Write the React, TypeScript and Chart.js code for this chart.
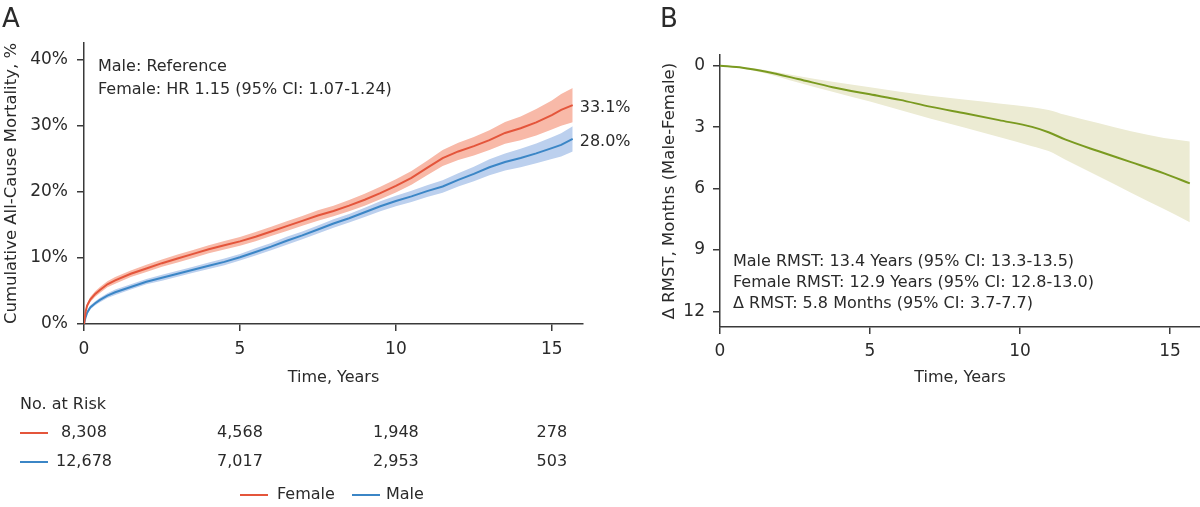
import React, { useEffect, useRef } from "react";
import { Chart, registerables } from "chart.js";

Chart.register(...registerables);

// ---------- data ----------
const timesA = [0, 0.05, 0.1, 0.2, 0.35, 0.5, 0.75, 1, 1.5, 2, 2.5, 3, 3.5, 4, 4.5, 5, 5.5, 6, 6.5, 7, 7.5, 8, 8.5, 9, 9.5, 10, 10.5, 11, 11.5, 12, 12.5, 13, 13.5, 14, 14.5, 15, 15.3, 15.67];
const female = [0, 1.8, 2.8, 3.7, 4.5, 5.1, 6.0, 6.6, 7.6, 8.4, 9.2, 9.9, 10.6, 11.3, 11.9, 12.5, 13.2, 14.0, 14.8, 15.6, 16.4, 17.1, 17.9, 18.8, 19.8, 20.9, 22.1, 23.6, 25.1, 26.1, 26.9, 27.8, 28.9, 29.6, 30.5, 31.6, 32.4, 33.1];
const femaleLo = [0, 1.5, 2.45, 3.3, 4.1, 4.65, 5.55, 6.1, 7.1, 7.85, 8.65, 9.3, 10.0, 10.7, 11.25, 11.85, 12.5, 13.3, 14.05, 14.85, 15.6, 16.3, 17.05, 17.9, 18.85, 19.9, 21.05, 22.5, 23.9, 24.8, 25.5, 26.3, 27.25, 27.8, 28.5, 29.4, 30.0, 30.5];
const femaleHi = [0, 2.1, 3.15, 4.1, 4.9, 5.55, 6.45, 7.1, 8.1, 8.95, 9.75, 10.5, 11.2, 11.9, 12.55, 13.15, 13.9, 14.7, 15.55, 16.35, 17.2, 17.9, 18.75, 19.7, 20.75, 21.9, 23.15, 24.7, 26.3, 27.4, 28.3, 29.3, 30.55, 31.4, 32.5, 33.8, 34.8, 35.7];
const male = [0, 1.0, 1.7, 2.5, 3.1, 3.6, 4.3, 4.8, 5.6, 6.4, 7.0, 7.6, 8.2, 8.8, 9.4, 10.1, 10.9, 11.7, 12.6, 13.4, 14.3, 15.2, 16.0, 16.9, 17.8, 18.6, 19.3, 20.1, 20.8, 21.8, 22.7, 23.7, 24.5, 25.1, 25.8, 26.6, 27.1, 28.0];
const maleLo = [0, 0.8, 1.45, 2.2, 2.8, 3.25, 3.95, 4.4, 5.2, 6.0, 6.55, 7.15, 7.75, 8.3, 8.9, 9.6, 10.35, 11.15, 12.0, 12.8, 13.7, 14.55, 15.35, 16.2, 17.05, 17.8, 18.45, 19.2, 19.85, 20.8, 21.6, 22.5, 23.2, 23.7, 24.3, 24.95, 25.35, 26.1];
const maleHi = [0, 1.2, 1.95, 2.8, 3.4, 3.95, 4.65, 5.2, 6.0, 6.8, 7.45, 8.05, 8.65, 9.3, 9.9, 10.6, 11.45, 12.25, 13.2, 14.0, 14.9, 15.85, 16.65, 17.6, 18.55, 19.4, 20.15, 21.0, 21.75, 22.8, 23.8, 24.9, 25.8, 26.5, 27.3, 28.25, 28.85, 29.9];
const endLabels = ["33.1%", "28.0%"];

const riskTimes = [0, 5, 10, 15];
const riskFemale = ["8,308", "4,568", "1,948", "278"];
const riskMale = ["12,678", "7,017", "2,953", "503"];

const xTicks = [0, 5, 10, 15];
const yTicksA = [0, 10, 20, 30, 40];
const yTicksB = [0, 3, 6, 9, 12];

const timesB = [0, 0.75, 1.5, 2.6, 3.75, 5, 6, 7, 8.2, 9.3, 10.4, 10.95, 11.5, 12.6, 13.7, 14.8, 15.66];
const rmst = [0, 0.1, 0.29, 0.65, 1.05, 1.4, 1.67, 2.0, 2.34, 2.66, 2.99, 3.25, 3.6, 4.17, 4.71, 5.26, 5.75];
const rmstUpper = [0, 0.07, 0.21, 0.5, 0.78, 1.05, 1.27, 1.47, 1.67, 1.85, 2.03, 2.16, 2.4, 2.8, 3.2, 3.53, 3.7];
const rmstLower = [0, 0.14, 0.37, 0.82, 1.27, 1.75, 2.16, 2.58, 3.04, 3.48, 3.93, 4.17, 4.58, 5.39, 6.2, 7.0, 7.65];

const annA = ["Male: Reference", "Female: HR 1.15 (95% CI: 1.07-1.24)"];
const annB = [
  "Male RMST: 13.4 Years (95% CI: 13.3-13.5)",
  "Female RMST: 12.9 Years (95% CI: 12.8-13.0)",
  "\u0394 RMST: 5.8 Months (95% CI: 3.7-7.7)",
];

// ---------- style ----------
const FONT = "'DejaVu Sans', sans-serif";
const TEXT = "#2a2a2a";
const AXIS = "#3a3a3a";
const RED = "#e4553b";
const BLUE = "#3b86c6";
const RED_BAND = "#f8b9a8";
const BLUE_BAND = "#bcd0ee";
const GREEN = "#7a9a20";
const GREEN_BAND = "#ecebd3";

const pts = (xs: number[], ys: number[]) => xs.map((x, i) => ({ x, y: ys[i] }));

const axisCommon = (extra: any) => ({
  type: "linear",
  grid: { drawOnChartArea: false, drawTicks: true, tickLength: 7, color: AXIS, lineWidth: 1.5 },
  border: { display: true, color: AXIS, width: 1.5 },
  ...extra,
});

const riskPlugin = {
  id: "riskTable",
  afterDraw(chart: any) {
    const { ctx, scales } = chart;
    const x = scales.x;
    const y = scales.y;
    ctx.save();
    ctx.font = `16px ${FONT}`;
    ctx.fillStyle = TEXT;
    ctx.textBaseline = "middle";
    ctx.textAlign = "left";
    const tEnd = timesA[timesA.length - 1];
    ctx.fillText(endLabels[0], x.getPixelForValue(tEnd) + 7, y.getPixelForValue(female[female.length - 1]) + 3);
    ctx.fillText(endLabels[1], x.getPixelForValue(tEnd) + 7, y.getPixelForValue(male[male.length - 1]) + 3);

    ctx.fillText("No. at Risk", 20, 405);
    ctx.textAlign = "center";
    riskTimes.forEach((t, i) => {
      const px = x.getPixelForValue(t);
      ctx.fillText(riskFemale[i], px, 433);
      ctx.fillText(riskMale[i], px, 462);
    });
    ctx.lineWidth = 2;
    ctx.strokeStyle = RED;
    ctx.beginPath();
    ctx.moveTo(20, 433);
    ctx.lineTo(48, 433);
    ctx.stroke();
    ctx.strokeStyle = BLUE;
    ctx.beginPath();
    ctx.moveTo(20, 462);
    ctx.lineTo(48, 462);
    ctx.stroke();

    // legend
    ctx.textAlign = "left";
    ctx.strokeStyle = RED;
    ctx.beginPath();
    ctx.moveTo(240, 495);
    ctx.lineTo(268, 495);
    ctx.stroke();
    ctx.fillText("Female", 277, 495);
    ctx.strokeStyle = BLUE;
    ctx.beginPath();
    ctx.moveTo(352, 495);
    ctx.lineTo(380, 495);
    ctx.stroke();
    ctx.fillText("Male", 386, 495);
    ctx.restore();
  },
};

function PanelA() {
  const ref = useRef<HTMLCanvasElement | null>(null);
  useEffect(() => {
    if (!ref.current) return;
    // Chart.js paints the first dataset on top, so lines go first, bands after.
    const chart = new Chart(ref.current, {
      type: "line",
      data: {
        datasets: [
          { data: pts(timesA, female), borderWidth: 2, borderColor: RED, pointRadius: 0, fill: false },
          { data: pts(timesA, male), borderWidth: 2, borderColor: BLUE, pointRadius: 0, fill: false },
          { data: pts(timesA, femaleLo), borderWidth: 0, pointRadius: 0, fill: false, backgroundColor: "transparent" },
          { data: pts(timesA, femaleHi), borderWidth: 0, pointRadius: 0, fill: "-1", backgroundColor: RED_BAND },
          { data: pts(timesA, maleLo), borderWidth: 0, pointRadius: 0, fill: false, backgroundColor: "transparent" },
          { data: pts(timesA, maleHi), borderWidth: 0, pointRadius: 0, fill: "-1", backgroundColor: BLUE_BAND },
        ],
      } as any,
      options: {
        animation: false,
        responsive: false,
        maintainAspectRatio: false,
        layout: { padding: { left: 0, right: 57, top: 43, bottom: 107 } },
        plugins: { legend: { display: false }, tooltip: { enabled: false } },
        scales: {
          x: axisCommon({
            min: 0,
            max: 16,
            afterBuildTicks: (s: any) => { s.ticks = xTicks.map((v) => ({ value: v })); },
            afterFit: (s: any) => { s.height = 76; },
            ticks: { font: { family: FONT, size: 17 }, color: TEXT, padding: 8, maxRotation: 0 },
            title: { display: true, text: "Time, Years", color: TEXT, font: { family: FONT, size: 16 }, padding: { top: 0, bottom: 13 } },
          }),
          y: axisCommon({
            min: 0,
            max: 42.5,
            afterBuildTicks: (s: any) => { s.ticks = yTicksA.map((v) => ({ value: v })); },
            afterFit: (s: any) => { s.width = 84; },
            ticks: { font: { family: FONT, size: 17 }, color: TEXT, padding: 9, callback: (v: any) => `${v}%` },
            title: { display: true, text: "Cumulative All-Cause Mortality, %", color: TEXT, font: { family: FONT, size: 16.5 }, padding: { top: 2, bottom: 0 } },
          }),
        },
      } as any,
      plugins: [riskPlugin],
    });
    return () => chart.destroy();
  }, []);
  return <canvas ref={ref} width={640} height={507} style={{ position: "absolute", left: 0, top: 0, width: 640, height: 507 }} />;
}

function PanelB() {
  const ref = useRef<HTMLCanvasElement | null>(null);
  useEffect(() => {
    if (!ref.current) return;
    const chart = new Chart(ref.current, {
      type: "line",
      data: {
        datasets: [
          { data: pts(timesB, rmst), borderWidth: 2, borderColor: GREEN, pointRadius: 0, fill: false, cubicInterpolationMode: "monotone" },
          { data: pts(timesB, rmstUpper), borderWidth: 0, pointRadius: 0, fill: false, backgroundColor: "transparent", cubicInterpolationMode: "monotone" },
          { data: pts(timesB, rmstLower), borderWidth: 0, pointRadius: 0, fill: "-1", backgroundColor: GREEN_BAND, cubicInterpolationMode: "monotone" },
        ],
      } as any,
      options: {
        animation: false,
        responsive: false,
        maintainAspectRatio: false,
        layout: { padding: { left: 0, right: 0, top: 55, bottom: 0 } },
        plugins: { legend: { display: false }, tooltip: { enabled: false } },
        scales: {
          x: axisCommon({
            min: 0,
            max: 16,
            afterBuildTicks: (s: any) => { s.ticks = xTicks.map((v) => ({ value: v })); },
            afterFit: (s: any) => { s.height = 73; },
            ticks: { font: { family: FONT, size: 17 }, color: TEXT, padding: 7, maxRotation: 0 },
            title: { display: true, text: "Time, Years", color: TEXT, font: { family: FONT, size: 16 }, padding: { top: 0, bottom: 13 } },
          }),
          y: axisCommon({
            min: -0.52,
            max: 12.76,
            reverse: true,
            afterBuildTicks: (s: any) => { s.ticks = yTicksB.map((v) => ({ value: v })); },
            afterFit: (s: any) => { s.width = 80; },
            ticks: { font: { family: FONT, size: 17 }, color: TEXT, padding: 8 },
            title: { display: true, text: "\u0394 RMST, Months (Male-Female)", color: TEXT, font: { family: FONT, size: 16.5 }, padding: { top: 20, bottom: 0 } },
          }),
        },
      } as any,
    });
    return () => chart.destroy();
  }, []);
  return <canvas ref={ref} width={560} height={400} style={{ position: "absolute", left: 640, top: 0, width: 560, height: 400 }} />;
}

export default function App() {
  const textStyle: React.CSSProperties = { position: "absolute", fontFamily: FONT, fontSize: 16, color: TEXT, whiteSpace: "nowrap" };
  return (
    <div style={{ position: "fixed", left: 0, top: 0, width: 1200, height: 507, background: "#fff", overflow: "hidden" }}>
      <PanelA />
      <PanelB />
      <div style={{ ...textStyle, left: 2, top: 5, fontSize: 26, lineHeight: "26px" }}>A</div>
      <div style={{ ...textStyle, left: 660, top: 5, fontSize: 26, lineHeight: "26px" }}>B</div>
      <div style={{ ...textStyle, left: 98, top: 54, lineHeight: "23px" }}>
        {annA.map((t) => (<div key={t}>{t}</div>))}
      </div>
      <div style={{ ...textStyle, left: 733, top: 250, lineHeight: "21px" }}>
        {annB.map((t) => (<div key={t}>{t}</div>))}
      </div>
    </div>
  );
}
